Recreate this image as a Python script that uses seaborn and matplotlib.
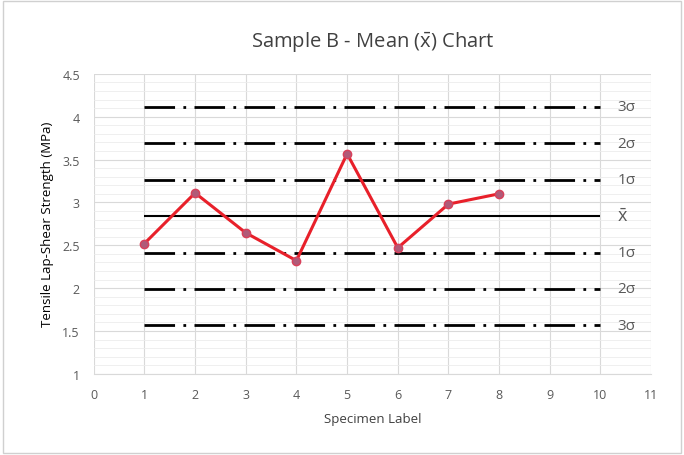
import pandas as pd
import matplotlib.pyplot as plt
import seaborn as sns
from matplotlib.ticker import MultipleLocator

specimen = [1, 2, 3, 4, 5, 6, 7, 8]
strength = [2.52, 3.11, 2.645, 2.32, 3.567, 2.47, 2.98, 3.10]

mean_value = 2.84
limit_values = [4.115, 3.69, 3.265, 2.415, 1.99, 1.565]
limit_labels = ['3σ', '2σ', '1σ', '1σ', '2σ', '3σ']

df = pd.DataFrame({'Specimen': specimen, 'Strength': strength})

sns.set_style('white')
plt.rcParams['font.family'] = ['Open Sans', 'DejaVu Sans']
plt.rcParams['mathtext.fontset'] = 'custom'
plt.rcParams['mathtext.rm'] = 'Open Sans'

fig = plt.figure(figsize=(6.84, 4.56), dpi=100)
ax = fig.add_axes([0.137, 0.178, 0.815, 0.658])

# light grid like the spreadsheet original
ax.xaxis.set_major_locator(MultipleLocator(1))
ax.yaxis.set_major_locator(MultipleLocator(0.5))
ax.yaxis.set_minor_locator(MultipleLocator(0.1))
ax.grid(which='major', axis='both', color='#d9d9d9', lw=0.8)
ax.grid(which='minor', axis='y', color='#ececec', lw=0.6)
ax.set_axisbelow(True)

# control limits
ax.hlines(limit_values, 1, 10, colors='black', lw=2.0,
          linestyles=[(0, (11, 3, 1, 3))])
ax.hlines(mean_value, 1, 10, colors='black', lw=1.5)
for v, lab in zip(limit_values, limit_labels):
    ax.text(10.33, v, lab, va='center', ha='left', fontsize=11, color='#595959')
ax.text(10.33, mean_value, r'$\bar{\mathrm{x}}$', va='center', ha='left',
        fontsize=13, color='#595959')

sns.lineplot(data=df, x='Specimen', y='Strength', ax=ax,
             color='#e8202a', lw=2.2, marker='o', markersize=6,
             markerfacecolor='#b05a78', markeredgecolor='#d9405a',
             markeredgewidth=1.0)

ax.set_xlim(0, 11)
ax.set_ylim(1, 4.5)
ax.set_xticks(range(0, 12))
ax.set_yticks([1, 1.5, 2, 2.5, 3, 3.5, 4, 4.5])
ax.set_yticklabels(['1', '1.5', '2', '2.5', '3', '3.5', '4', '4.5'])
ax.tick_params(axis='both', labelsize=9, colors='#595959', length=0, pad=10)

for s in ['top', 'right', 'left']:
    ax.spines[s].set_visible(False)
ax.spines['bottom'].set_color('#d9d9d9')

ax.set_xlabel('Specimen Label', fontsize=9.5, color='#404040', labelpad=8)
ax.set_ylabel('Tensile Lap-Shear Strength (MPa)', fontsize=9.5, color='#000000', labelpad=6)
ax.set_title(r'Sample B - Mean ($\bar{\mathrm{x}}$) Chart', fontsize=14.5,
             color='#404040', pad=20)

# frame around whole chart
fig.patches.append(plt.Rectangle((0.004, 0.004), 0.992, 0.992, transform=fig.transFigure,
                                 fill=False, edgecolor='#d0d0d0', lw=1))

plt.savefig('out.png', dpi=100)
